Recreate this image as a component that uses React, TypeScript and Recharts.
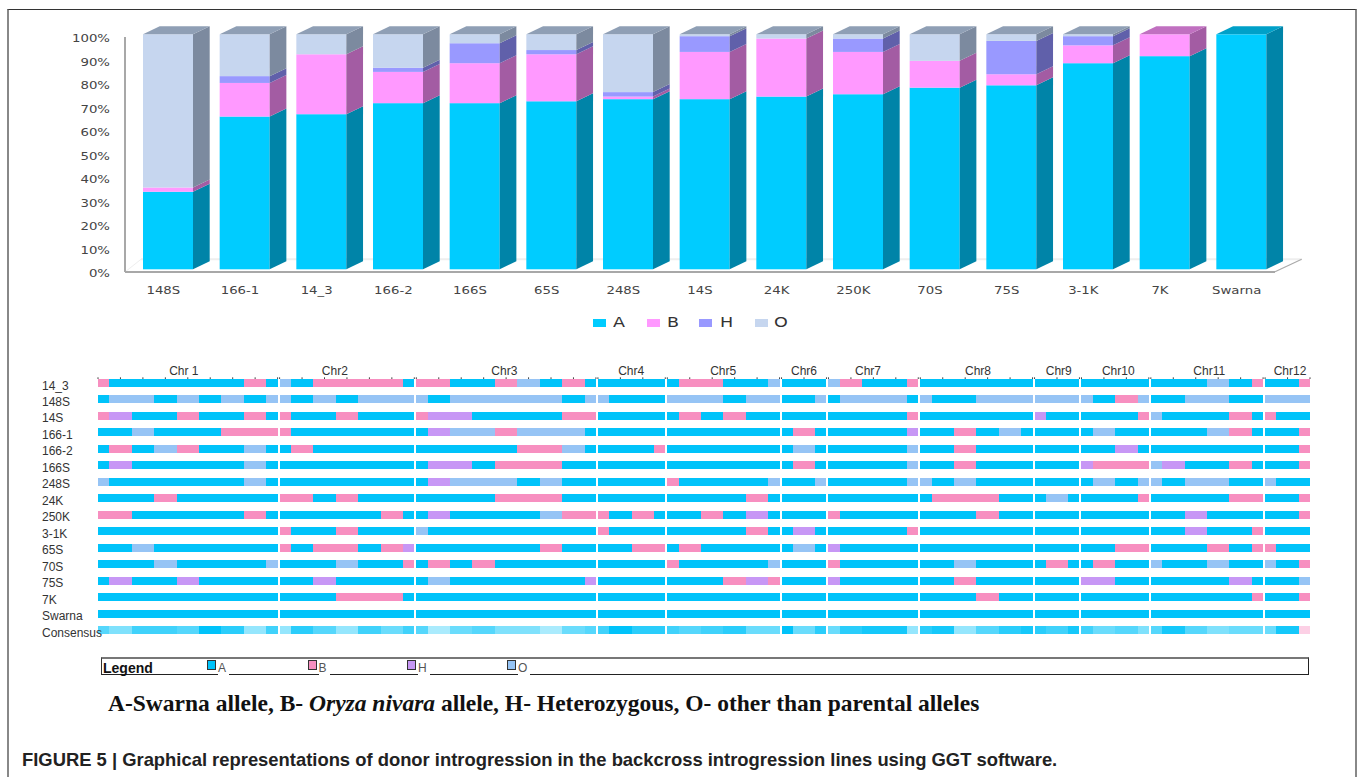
import { Bar, BarChart, Cell, Legend, XAxis, YAxis } from 'recharts'

// top chart: percentage of each allele per line
const stackSamples = ['148S', '166-1', '14_3', '166-2', '166S', '65S', '248S', '14S', '24K', '250K', '70S', '75S', '3-1K', '7K', 'Swarna']
const pctA = [33, 65, 66, 70.7, 70.7, 71.5, 72.4, 72.4, 73.5, 74.5, 77.3, 78.3, 87.7, 90.7, 100]
const pctB = [1.8, 14.3, 25.5, 13.3, 17, 20, 1.1, 20.1, 24.7, 18, 11.4, 4.7, 7.6, 9.3, 0]
const pctH = [0, 2.9, 0, 1.8, 8.5, 1.8, 1.9, 6.7, 0, 5.7, 0, 14.2, 3.9, 0, 0]
const pctO = [65.2, 17.8, 8.5, 14.2, 3.8, 6.7, 24.6, 0.8, 1.8, 1.8, 11.3, 2.8, 0.8, 0, 0]
const pctTicks = [0, 10, 20, 30, 40, 50, 60, 70, 80, 90, 100]

const alleles = ['A', 'B', 'H', 'O']
const frontColors: Record<string, string> = { A: '#00ccff', B: '#ff99ff', H: '#9999ff', O: '#c6d6ef' }
const sideColors: Record<string, string> = { A: '#0084a8', B: '#a35ca3', H: '#6060aa', O: '#7c8a9f' }
const capColors: Record<string, string> = { A: '#00a0c8', B: '#c070c0', H: '#7a7ac8', O: '#8f9fb5' }

// lower chart: genotype per marker, one string per line, one list per chromosome
const mapSamples = ['14_3', '148S', '14S', '166-1', '166-2', '166S', '248S', '24K', '250K', '3-1K', '65S', '70S', '75S', '7K', 'Swarna']
const chr1 = ['BAAAAAABA', 'AOOAOAOAO', 'BHAABAABA', 'AAOAAABBB', 'ABAOBAAOA', 'AHAAAAAOA', 'OAAAAAAOA', 'AAABAAAAA', 'BBAAAAABA', 'AAAAAAAAA', 'AAOAAAAAA', 'AAAOAAAAO', 'AHAAHAAAA', 'AAAAAAAAA', 'AAAAAAAAA']
const chr2 = ['OABBBBA', 'OAOAOOO', 'BAABAAA', 'BAAAAAA', 'ABAAAAA', 'AAAAAAA', 'AAAAAAA', 'BBABAAA', 'AAAAABA', 'BAABAAA', 'BABBABH', 'AAAOAAB', 'AAHAAAA', 'AAABBBA', 'AAAAAAA']
const chr3 = ['BBAABOABA', 'OAOOOOOAO', 'BHHAAAABB', 'AHOOBOOOA', 'AAAAABBOA', 'AHHABBBAA', 'AHOOOAOAA', 'AAAABBBAA', 'AHAAAAOBB', 'OAAAAAAAA', 'AAAAAABAA', 'ABABAAAAA', 'AOAAAAAAH', 'AAAAAAAAA', 'AAAAAAAAA']
const chr4 = ['AAAA', 'OAAA', 'AAAA', 'AAAA', 'AAAB', 'AAAA', 'AAAA', 'AAAA', 'BABA', 'BAAA', 'AABB', 'AAAA', 'AAAA', 'AAAA', 'AAAA']
const chr5 = ['ABBAAO', 'OOOAOO', 'ABABAA', 'AAAAAA', 'AAAAAA', 'AAAAAA', 'BAAAAO', 'AAAABA', 'AABAHA', 'AAAABA', 'ABAAAA', 'BAAAAO', 'AAABHB', 'AAAAAA', 'AAAAAA']
const chr6 = ['AAA', 'AAO', 'AAA', 'ABA', 'AOA', 'ABA', 'AAO', 'AAA', 'AAA', 'AHA', 'AOA', 'AAA', 'AAA', 'AAA', 'AAA']
const chr7 = ['OBAAB', 'AOOOA', 'AAAAB', 'AAAAH', 'AAAAO', 'AAAAO', 'AAAAO', 'AAAAA', 'BAAAA', 'AAAAB', 'HAAAA', 'BAAAA', 'HAAAA', 'AAAAA', 'AAAAA']
const chr8 = ['AAAAAA', 'OAAOOO', 'AAAAAA', 'AABAOA', 'AABAAA', 'AABAAA', 'OAOAAA', 'ABBBAA', 'AAABAA', 'AAAAAA', 'AAAAAA', 'AAOAAA', 'AABAAA', 'AAABAA', 'AAAAAA']
const chr9 = ['AAA', 'OOO', 'HAA', 'AAA', 'AAA', 'AAA', 'AAA', 'AOA', 'AAA', 'AAA', 'AAA', 'ABA', 'AAA', 'AAA', 'AAA']
const chr10 = ['AAAA', 'OABO', 'AAAB', 'AOAA', 'AAHA', 'HBBB', 'AOAO', 'AAAB', 'AAAA', 'AAAA', 'AABB', 'ABAA', 'HHAA', 'AAAA', 'AAAA']
const chr11 = ['AAAOAB', 'AAOOAA', 'OAAABA', 'AAAOBA', 'AAAAAA', 'OHAABA', 'OAOOAA', 'AAAABB', 'AAHAAA', 'AAHAAB', 'AAABAB', 'OAAOAA', 'AAAAHA', 'AAAAAB', 'AAAAAA']
const chr12 = ['AAB', 'OOO', 'BAA', 'AAB', 'AAB', 'AAB', 'OAA', 'AAB', 'AAB', 'AAA', 'BAA', 'OAB', 'AAO', 'AAB', 'AAA']
const chromosomes = [chr1, chr2, chr3, chr4, chr5, chr6, chr7, chr8, chr9, chr10, chr11, chr12]
const chrNames = ['Chr 1', 'Chr2', 'Chr3', 'Chr4', 'Chr5', 'Chr6', 'Chr7', 'Chr8', 'Chr9', 'Chr10', 'Chr11', 'Chr12']
const chrLabelPos = [7.65, 21.1, 36.2, 47.5, 55.7, 62.9, 68.6, 78.4, 85.6, 90.9, 99, 106.2]
const chrGap = 0.18

const mapColors: Record<string, string> = { A: '#00c3fa', B: '#f78fc0', H: '#c797f5', O: '#96c4f5' }
const legendBoxX = [207, 307.5, 407, 507]

const stackData = stackSamples.map((sample, i) => ({ sample, A: pctA[i], B: pctB[i], H: pctH[i], O: pctO[i] }))

// one column per marker, plus a blank spacer between chromosomes
type Column = { key: string; width: number; chr: number; index: number; spacer: boolean }
const columns: Column[] = []
const markerTicks: number[] = []
let run = 0
chromosomes.forEach((chr, c) => {
  const n = chr[0].length
  for (let m = 0; m < n; m++) {
    const width = m === 0 || m === n - 1 ? 1 : 2
    // a marker sits at the middle of its cell; the end cells are cut in half
    markerTicks.push(m === 0 ? run : m === n - 1 ? run + 1 : run + 1)
    columns.push({ key: `c${c}m${m}`, width, chr: c, index: m, spacer: false })
    run += width
  }
  if (c < chromosomes.length - 1) {
    columns.push({ key: `gap${c}`, width: chrGap, chr: c, index: -1, spacer: true })
    run += chrGap
  }
})
const mapTotal = run

const mapData = [...mapSamples, 'Consensus'].map((sample) => {
  const row: Record<string, string | number> = { sample }
  columns.forEach((col) => { row[col.key] = col.width })
  return row
})

function cellFill(col: Column, rowIndex: number) {
  const calls = chromosomes[col.chr].map((r) => r[col.index])
  if (rowIndex < mapSamples.length) return { fill: mapColors[calls[rowIndex]], opacity: 1 }
  // consensus row: majority call, fainter when the lines disagree
  const best = alleles.reduce((a, b) => (calls.filter((v) => v === b).length > calls.filter((v) => v === a).length ? b : a))
  const share = calls.filter((v) => v === best).length / calls.length
  return { fill: mapColors[best], opacity: Math.max(0.25, (share - 0.2) / 0.8) }
}

const DEPTH_X = 16.7
const DEPTH_Y = 8
// bars stand slightly inside the axis plane, like the spreadsheet's 3D view
const makeBar3D = (allele: string) => (props: any) => {
  const { width: w, height: h, payload } = props
  if (!h || h <= 0) return <g />
  const x = props.x + 5
  const y = props.y - 2.7
  const topAllele = alleles.filter((a) => payload[a] > 0).pop()
  return (
    <g>
      <rect x={x} y={y} width={w} height={h} fill={frontColors[allele]} />
      <polygon
        points={`${x + w},${y} ${x + w + DEPTH_X},${y - DEPTH_Y} ${x + w + DEPTH_X},${y + h - DEPTH_Y} ${x + w},${y + h}`}
        fill={sideColors[allele]}
      />
      {topAllele === allele && (
        <polygon
          points={`${x},${y} ${x + DEPTH_X},${y - DEPTH_Y} ${x + w + DEPTH_X},${y - DEPTH_Y} ${x + w},${y}`}
          fill={capColors[allele]}
        />
      )}
    </g>
  )
}

const wideFont = '"DejaVu Sans", sans-serif'

const PctTick = ({ y, payload }: any) => (
  <g transform={`translate(110,${y + 2}) scale(1.33,1)`}>
    <text textAnchor="end" dominantBaseline="central" fontFamily={wideFont} fontSize={10} fill="#444">
      {payload.value}%
    </text>
  </g>
)

const SampleTick = ({ x, payload }: any) => (
  <g transform={`translate(${x},291) scale(1.33,1)`}>
    <text textAnchor="middle" dominantBaseline="central" fontFamily={wideFont} fontSize={10} fill="#444">
      {payload.value}
    </text>
  </g>
)

const legendSwatchX = [592.7, 646.7, 699, 755]
const legendLabelX = [612.7, 666.7, 720, 774]
const StackLegend = ({ payload }: any) => (
  <div style={{ position: 'relative', height: 33 }}>
    {(payload || []).map((item: any, i: number) => (
      <div key={item.value}>
        <div style={{ position: 'absolute', left: legendSwatchX[i], top: 16.5, width: 13, height: 8.5, background: item.color }} />
        <div
          style={{
            position: 'absolute', left: legendLabelX[i], top: 12, fontFamily: wideFont, fontSize: 13.5, lineHeight: '17px',
            color: '#333', transform: 'scaleX(1.3)', transformOrigin: 'left center',
          }}
        >
          {item.value}
        </div>
      </div>
    ))}
  </div>
)

const MarkerTick = ({ x }: any) => <line x1={x} x2={x} y1={377.3 - 355} y2={379 - 355} stroke="#444" strokeWidth={1} />

const ChrTick = ({ x, index }: any) => (
  <text x={x} y={15.7} textAnchor="middle" dominantBaseline="central" fontFamily="Liberation Sans, Arial, sans-serif" fontSize={12} fill="#333">
    {chrNames[index]}
  </text>
)

const SampleRowTick = ({ y, payload }: any) => (
  <text x={42} y={y + 2.3} dominantBaseline="central" fontFamily="Liberation Sans, Arial, sans-serif" fontSize={12} fill="#333">
    {payload.value}
  </text>
)

export default function App() {
  return (
    <div style={{ position: 'absolute', left: 0, top: 0, width: 1358, height: 777, background: '#fff', overflow: 'hidden' }}>
      <div style={{ position: 'absolute', left: 7, top: 9, width: 1346, height: 768, borderLeft: '2px solid #888', borderRight: '2px solid #888', borderTop: '1.5px solid #333' }} />

      <svg width={1358} height={345} style={{ position: 'absolute', left: 0, top: 0 }}>
        <line x1={141} y1={259.3} x2={1301.7} y2={259.3} stroke="#eeeeee" strokeWidth={2} />
        <line x1={125} y1={272} x2={141} y2={259.3} stroke="#eeeeee" strokeWidth={1} />
        <line x1={1275} y1={271.7} x2={1301.7} y2={259.3} stroke="#aaaaaa" strokeWidth={1.2} />
      </svg>

      <div style={{ position: 'absolute', left: 0, top: 0 }}>
        <BarChart width={1358} height={345} data={stackData} barSize={50} margin={{ top: 37, right: 83, bottom: 10, left: 40 }}>
          <XAxis dataKey="sample" height={30} interval={0} tickLine={false} axisLine={{ stroke: '#a8a8a8', strokeWidth: 2 }} tick={<SampleTick />} />
          <YAxis width={85} domain={[0, 100]} ticks={pctTicks} tickLine={false} axisLine={{ stroke: '#a8a8a8', strokeWidth: 2 }} tick={<PctTick />} />
          <Legend verticalAlign="bottom" height={33} wrapperStyle={{ left: 0, width: 1358 }} content={<StackLegend />} />
          {alleles.map((a) => (
            <Bar key={a} dataKey={a} name={a} stackId="s" fill={frontColors[a]} shape={makeBar3D(a)} isAnimationActive={false} />
          ))}
        </BarChart>
      </div>

      <div style={{ position: 'absolute', left: 0, top: 355 }}>
        <BarChart width={1358} height={290} layout="vertical" data={mapData} barSize={8} margin={{ top: 18, right: 48, bottom: 6.4, left: 42 }}>
          <XAxis xAxisId="marker" type="number" orientation="top" height={1} domain={[0, mapTotal]} allowDataOverflow ticks={markerTicks} interval={0} axisLine={false} tickLine={false} tick={<MarkerTick />} />
          <XAxis xAxisId="chr" type="number" orientation="top" height={1} domain={[0, mapTotal]} allowDataOverflow ticks={chrLabelPos} interval={0} axisLine={false} tickLine={false} tick={<ChrTick />} />
          <YAxis type="category" dataKey="sample" width={56} interval={0} axisLine={false} tickLine={false} tick={<SampleRowTick />} />
          {columns.map((col) => (
            <Bar key={col.key} xAxisId="marker" dataKey={col.key} stackId="g" fill="none" shapeRendering="crispEdges" isAnimationActive={false}>
              {col.spacer
                ? null
                : mapData.map((_, r) => {
                    const { fill, opacity } = cellFill(col, r)
                    return <Cell key={r} fill={fill} fillOpacity={opacity} />
                  })}
            </Bar>
          ))}
        </BarChart>
      </div>

      <div style={{ position: 'absolute', left: 101, top: 657, width: 1208, height: 17.5, boxSizing: 'border-box', borderTop: '2px solid #777', borderBottom: '1px solid #222', borderLeft: '1px solid #333', borderRight: '1px solid #222', background: '#fff' }} />
      <div style={{ position: 'absolute', left: 103, top: 660, fontFamily: 'Liberation Sans, Arial, sans-serif', fontWeight: 700, fontSize: 14, lineHeight: '16px', color: '#111' }}>Legend</div>
      {alleles.map((a, i) => (
        <div key={a}>
          <div style={{ position: 'absolute', left: legendBoxX[i], top: 659.5, width: 9, height: 10.5, boxSizing: 'border-box', background: mapColors[a], border: '1px solid #333' }} />
          <div style={{ position: 'absolute', left: legendBoxX[i] + 11, top: 661, padding: '0 3px 0 0', background: '#fff', fontFamily: 'Liberation Sans, Arial, sans-serif', fontSize: 12, lineHeight: '14px', color: '#555' }}>{a}</div>
        </div>
      ))}

      <div style={{ position: 'absolute', left: 108, top: 689, fontFamily: 'Liberation Serif, Times New Roman, serif', fontWeight: 700, fontSize: 23.5, lineHeight: '28px', color: '#111', whiteSpace: 'nowrap' }}>
        A-Swarna allele, B- <i>Oryza nivara</i> allele, H- Heterozygous, O- other than parental alleles
      </div>
      <div style={{ position: 'absolute', left: 22, top: 749, fontFamily: 'Liberation Sans, Arial, sans-serif', fontWeight: 700, fontSize: 18.4, lineHeight: '22px', color: '#222', whiteSpace: 'nowrap' }}>
        FIGURE 5 | Graphical representations of donor introgression in the backcross introgression lines using GGT software.
      </div>
    </div>
  )
}
